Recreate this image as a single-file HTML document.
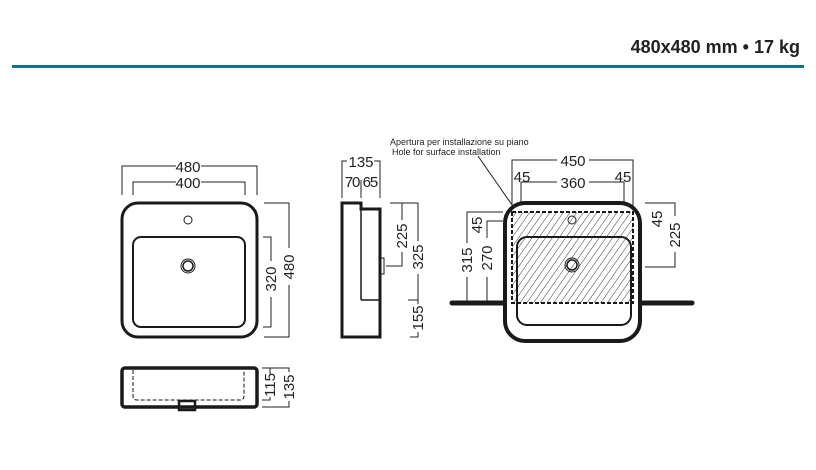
<!DOCTYPE html>
<html><head><meta charset="utf-8"><style>
html,body{margin:0;padding:0;background:#fff;}
svg{display:block;}
text{font-family:"Liberation Sans",Arial,sans-serif;fill:#222;}
</style></head><body>
<svg width="816" height="470" viewBox="0 0 816 470" xmlns="http://www.w3.org/2000/svg">
<defs>
<pattern id="h" patternUnits="userSpaceOnUse" width="5.5" height="5.5" patternTransform="rotate(35)">
<line x1="0" y1="0" x2="0" y2="5.5" stroke="#222" stroke-width="0.9"/>
</pattern>
</defs>
<text x="800" y="53" text-anchor="end" font-size="18" font-weight="bold">480x480 mm • 17 kg</text>
<rect x="12" y="65" width="792" height="3" fill="#17708a"/>

<g fill="none" stroke="#222" stroke-width="1">
<polyline points="122,195 122,166 176,166"/><polyline points="201,166 257,166 257,195"/>
<polyline points="133,195 133,182 176,182"/><polyline points="201,182 245,182 245,195"/>
<polyline points="264,203 289,203 289,248"/><polyline points="289,285 289,337 264,337"/>
<polyline points="263,237 271,237 271,261"/><polyline points="271,297 271,327 263,327"/>
<polyline points="262,368 270,368 270,374"/><polyline points="270,397 270,400 262,400"/>
<polyline points="262,368 289,368 289,372"/><polyline points="289,401 289,407 262,407"/>
<polyline points="342,198 342,161 347,161"/><polyline points="374,161 380,161 380,198"/>
<line x1="361" y1="180" x2="361" y2="198"/>
<polyline points="390,203 402,203 402,220"/><polyline points="402,252 402,266 386,266"/>
<polyline points="402,203 418,203 418,241"/><polyline points="418,274 418,300"/>
<polyline points="408,300 418,300 418,304"/><polyline points="418,332 418,337 410,337"/>
<polyline points="512,208 512,160 557,160"/><polyline points="589,160 633,160 633,208"/>
<polyline points="521,208 521,182 557,182"/><polyline points="589,182 624,182 624,208"/>
<polyline points="645,203 675,203 675,216"/><polyline points="675,252 675,267 645,267"/>
<polyline points="503,212 467,212 467,243"/><polyline points="467,277 467,303"/>
<polyline points="503,221 487,221 487,238"/><polyline points="487,277 487,303"/>
<line x1="478" y1="156" x2="519" y2="215"/>
</g>

<g font-size="15" text-anchor="middle">
<text x="188" y="172">480</text><text x="188" y="188">400</text>
<text transform="translate(294,267) rotate(-90)">480</text>
<text transform="translate(276,279) rotate(-90)">320</text>
<text transform="translate(275,385) rotate(-90)">115</text>
<text transform="translate(294,387) rotate(-90)">135</text>
<text x="361" y="167">135</text><text x="361" y="187" letter-spacing="-1">70 65</text>
<text transform="translate(407,236) rotate(-90)">225</text>
<text transform="translate(423,257) rotate(-90)">325</text>
<text transform="translate(423,318) rotate(-90)">155</text>
<text x="573" y="166">450</text><text x="573" y="188">360</text>
<text x="522" y="182">45</text><text x="623" y="182">45</text>
<text transform="translate(662,219) rotate(-90)">45</text>
<text transform="translate(680,235) rotate(-90)">225</text>
<text transform="translate(472,260) rotate(-90)">315</text>
<text transform="translate(492,258) rotate(-90)">270</text>
<text transform="translate(482,225) rotate(-90)">45</text>
</g>
<text x="390" y="145" font-size="9">Apertura per installazione su piano</text>
<text x="392" y="155" font-size="9">Hole for surface installation</text>

<g fill="none" stroke="#1a1a1a">
<rect x="122" y="203" width="135" height="134" rx="16" stroke-width="3"/>
<rect x="133" y="237" width="112" height="90" rx="8" stroke-width="2"/>
<circle cx="188" cy="220" r="4" stroke-width="1"/>
<circle cx="188" cy="266" r="7" stroke-width="1"/>
<circle cx="188" cy="266" r="5" stroke-width="1.5"/>
<rect x="122" y="368" width="135" height="39" rx="3" stroke-width="3.5"/>
<path d="M133,370 V396 Q133,400 137,400 H240 Q244,400 244,396 V370" stroke-width="1" stroke-dasharray="4,2"/>
<rect x="179" y="401" width="16" height="9" stroke-width="2.5"/>
<path d="M342,203 H361 V209 H380 V337 H342 Z" stroke-width="3"/>
<line x1="361" y1="209" x2="361" y2="300" stroke-width="1.5"/>
<line x1="361" y1="300" x2="380" y2="300" stroke-width="1.5"/>
<rect x="380" y="258" width="4" height="16" stroke-width="1"/>
<line x1="452" y1="303" x2="505" y2="303" stroke-width="5" stroke-linecap="round"/>
<line x1="640" y1="303" x2="692" y2="303" stroke-width="5" stroke-linecap="round"/>
<rect x="505" y="203" width="135" height="138" rx="20" stroke-width="4" fill="#fff"/>
<rect x="517" y="237" width="114" height="88" rx="10" stroke-width="2"/>
<circle cx="572" cy="220" r="4" stroke-width="1"/>
<circle cx="572" cy="265" r="7" stroke-width="1"/>
<circle cx="572" cy="265" r="5" stroke-width="1.5"/>
<rect x="512" y="212" width="121" height="91" fill="url(#h)" stroke-width="2" stroke-dasharray="4,2"/>
</g>
</svg>
</body></html>
